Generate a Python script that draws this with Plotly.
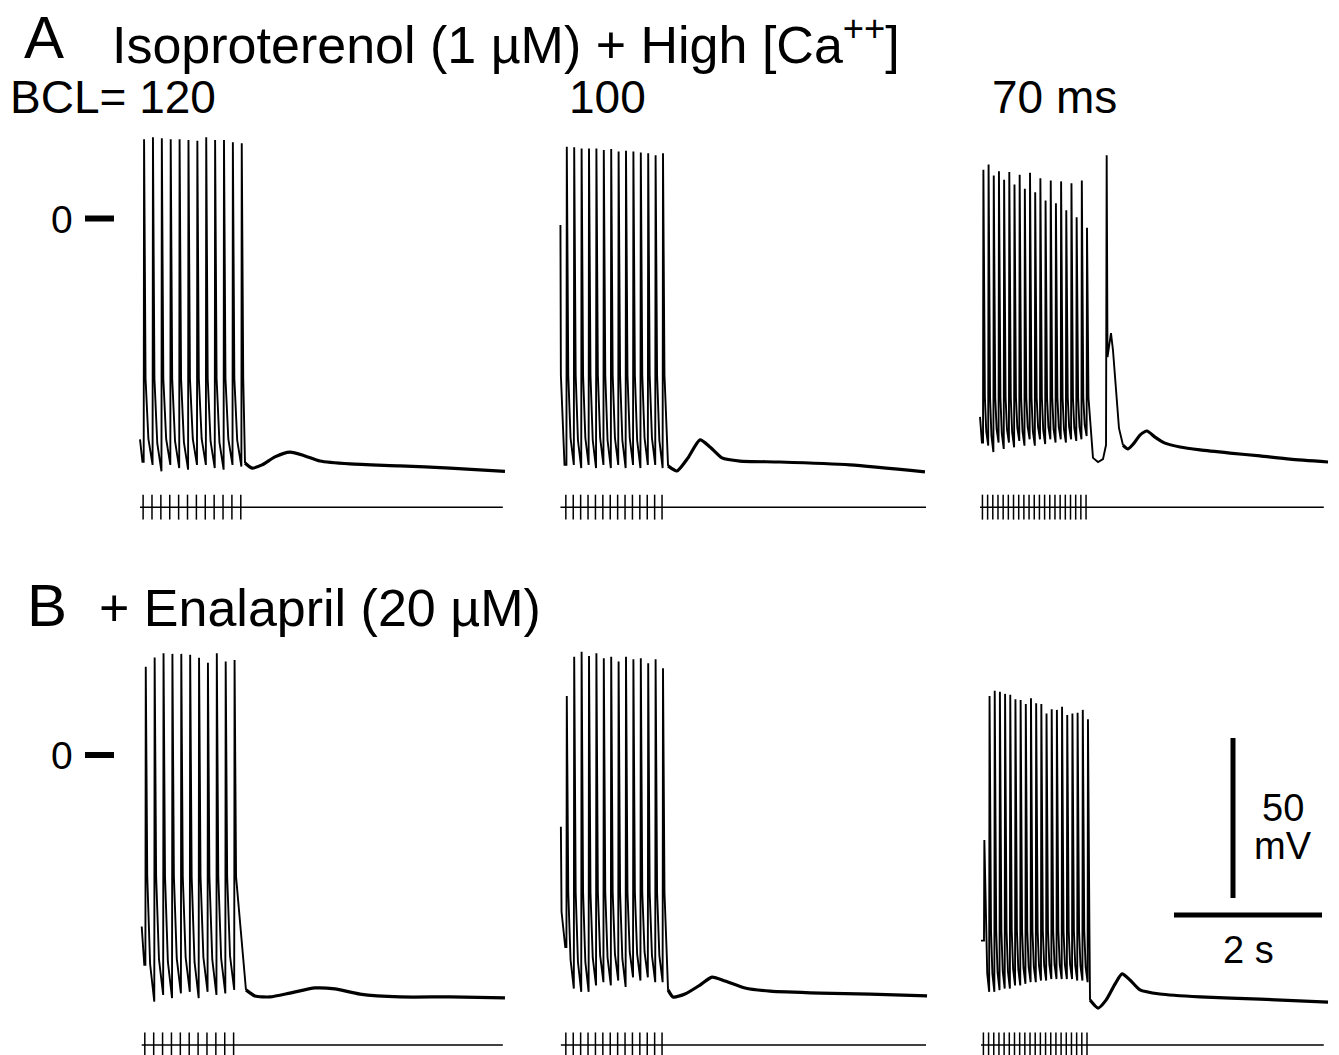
import plotly.graph_objects as go

W, H = 1339, 1055
FONT = "Liberation Sans, Arial, Helvetica, sans-serif"

# ---------------- data ----------------
BCL_S = [0.120, 0.100, 0.070]                 # basic cycle length, s
BCL_LABELS = ["BCL= 120", "100", "70 ms"]
ROW_TITLES = ["Isoproterenol (1 µM) + High [Ca<sup>++</sup>]", "+ Enalapril (20 µM)"]
ROW_LETTERS = ["A", "B"]
SCALE_MV = 50
SCALE_S = 2

# ---- Row A, BCL 120 ----
A1_first_stim = 0.081
A1_lead_t = [0.027, 0.060]
A1_lead_v = [-69.0, -76.0]
A1_peaks = [24.8, 25.4, 25.1, 24.8, 24.8, 24.5, 24.3, 25.4, 24.5, 24.5, 23.8, 23.5]
A1_troughs = [-77.0, -79.0, -77.0, -78.0, -78.5, -77.0, -77.0, -78.0, -78.5, -77.0, -77.5]
A1_knee = -50.0
A1_tail_t = [1.446, 1.541, 1.676, 1.851, 2.054, 2.257, 2.459, 2.865, 3.541, 4.216, 4.959]
A1_tail_v = [-76.4, -78.0, -77.0, -74.5, -73.0, -74.2, -75.8, -76.7, -77.3, -78.0, -79.0]

# ---- Row A, BCL 100 ----
A2_first_stim = 0.145
A2_lead_t = [0.060, 0.066, 0.115]
A2_lead_v = [-2.0, -49.0, -77.0]
A2_peaks = [22.4, 22.3, 21.9, 21.9, 21.9, 21.4, 21.7, 20.9, 21.2, 20.9, 20.6, 20.4, 19.8, 20.4]
A2_troughs = [-77.0, -78.0, -77.0, -78.0, -77.0, -78.0, -77.0, -78.0, -77.0, -78.0, -77.0, -77.0, -78.0]
A2_knee = -49.0
A2_tail_t = [1.514, 1.635, 1.784, 1.946, 2.081, 2.243, 2.486, 3.027, 3.973, 4.986]
A2_tail_v = [-77.3, -78.9, -74.8, -69.2, -71.4, -74.8, -75.8, -76.1, -77.0, -79.2]

# ---- Row A, BCL 70 (alternans + triggered beat) ----
A3_first_stim = 0.099
A3_lead_t = [0.054, 0.080]
A3_lead_v = [-62.0, -70.0]
A3_peaks = [15.2, 16.9, 13.4, 14.8, 12.1, 14.5, 10.6, 13.7, 9.3, 14.3, 8.2,
            12.6, 5.6, 11.9, 4.8, 11.6, 2.6, 11.0, 0.4, 11.9, -2.9]
A3_troughs = [-71.0, -73.0, -70.0, -72.0, -70.0, -71.5, -69.5, -71.0, -69.0, -71.0,
              -69.0, -70.5, -69.0, -70.0, -69.0, -70.0, -69.0, -69.5, -69.0, -68.0]
A3_knee = -56.0
A3_trig_t = [1.581, 1.649, 1.716, 1.757, 1.766, 1.777, 1.797, 1.824, 1.851, 1.892, 1.932, 1.986]
A3_trig_v = [-74.8, -76.1, -75.2, -70.8, 19.8, -43.3, -39.5, -35.8, -41.1, -55.2, -65.5, -70.8]
A3_tail_t = [1.986, 2.054, 2.135, 2.216, 2.311, 2.419, 2.554, 2.757, 3.027, 3.432, 3.838, 4.243, 4.757]
A3_tail_v = [-70.8, -72.0, -70.2, -67.7, -66.4, -68.3, -70.2, -71.4, -72.3, -73.3, -74.2, -75.2, -76.1]

# ---- Row B, BCL 120 ----
B1_first_stim = 0.104
B1_lead_t = [0.050, 0.085]
B1_lead_v = [-53.6, -65.6]
B1_peaks = [27.6, 30.5, 31.8, 31.6, 31.6, 31.3, 30.4, 28.8, 31.8, 29.2, 29.7]
B1_troughs = [-77.1, -75.0, -76.0, -74.5, -74.0, -76.0, -74.0, -75.0, -74.5, -73.4]
B1_knee = -38.0
B1_tail_t = [1.459, 1.581, 1.784, 2.054, 2.392, 2.662, 3.000, 3.541, 4.216, 4.959]
B1_tail_v = [-73.4, -75.3, -75.6, -74.4, -72.8, -73.1, -74.7, -75.6, -75.6, -75.9]

# ---- Row B, BCL 100 ----
B2_first_stim = 0.145
B2_lead_t = [0.066, 0.075, 0.125]
B2_lead_v = [-22.4, -49.0, -60.0]
B2_peaks = [18.4, 30.7, 32.3, 30.9, 31.8, 30.2, 30.7, 29.2, 30.7, 29.9, 30.2, 28.7, 29.9, 27.1]
B2_troughs = [-73.0, -74.0, -74.0, -72.0, -71.0, -72.0, -70.5, -72.5, -69.5, -70.5, -69.5, -71.0, -71.0]
B2_knee = -43.0
B2_tail_t = [1.514, 1.581, 1.743, 1.946, 2.108, 2.284, 2.554, 2.892, 3.568, 4.243, 5.014]
B2_tail_v = [-73.4, -75.6, -74.7, -71.9, -69.4, -70.6, -72.8, -73.8, -74.4, -74.7, -75.3]

# ---- Row B, BCL 70 ----
B3_first_stim = 0.112
B3_lead_t = [0.068]
B3_lead_v = [-58.0]
B3_peaks = [-26.6, 18.4, 20.1, 19.8, 19.1, 18.8, 17.4, 17.2, 15.9, 17.7, 16.2,
            15.9, 13.0, 14.3, 14.1, 15.1, 12.5, 13.0, 13.2, 14.1, 11.2]
B3_troughs = [-74.0, -74.0, -73.5, -73.0, -73.0, -72.0, -72.0, -71.5, -71.0, -71.0,
              -70.5, -70.5, -70.0, -70.0, -70.0, -70.0, -70.0, -70.5, -70.5, -71.0]
B3_knee = -55.0
B3_tail_t = [1.541, 1.649, 1.757, 1.878, 1.973, 2.081, 2.216, 2.486, 3.027, 3.838, 4.757]
B3_tail_v = [-76.6, -79.1, -76.6, -71.6, -68.4, -70.3, -73.4, -74.7, -75.6, -76.3, -77.2]

# stimulus-marker line extents (s)
STIM_END = [4.93, 5.00, 4.70]

# ---------------- layout geometry (pixels) ----------------
PX_PER_S = 74.0
PX_PER_MV = 3.2
COL_L = [138, 556, 976]
COL_R = [508, 928, 1332]
ROW_TOP = [120, 630]
ROW_BOT = [530, 1055]
ROW_ZERO = [218.5, 755]
STIM_MV = [-90.2, -90.6]
TICK_HALF = 3.9


def pxx(x):
    return x / W


def pxy(y):
    return 1 - y / H


def burst(first, bcl, lead_t, lead_v, peaks, troughs, knee):
    xs, ys = list(lead_t), list(lead_v)
    for i, p in enumerate(peaks):
        t = first + i * bcl
        if i == 0:
            xs.append(t - 0.004)
            ys.append(lead_v[-1])
        else:
            tr = troughs[i - 1]
            tp = t - bcl
            xs += [tp + 0.022 + 0.4 * (bcl - 0.026), t - 0.004]
            ys += [knee + 0.7 * (tr - knee), tr]
        xs += [t + 0.001, t + 0.021]
        ys += [p, knee]
    return xs, ys


panels = [
    (0, 0, A1_first_stim, A1_lead_t, A1_lead_v, A1_peaks, A1_troughs, A1_knee, [], [], A1_tail_t, A1_tail_v),
    (0, 1, A2_first_stim, A2_lead_t, A2_lead_v, A2_peaks, A2_troughs, A2_knee, [], [], A2_tail_t, A2_tail_v),
    (0, 2, A3_first_stim, A3_lead_t, A3_lead_v, A3_peaks, A3_troughs, A3_knee, A3_trig_t, A3_trig_v, A3_tail_t, A3_tail_v),
    (1, 0, B1_first_stim, B1_lead_t, B1_lead_v, B1_peaks, B1_troughs, B1_knee, [], [], B1_tail_t, B1_tail_v),
    (1, 1, B2_first_stim, B2_lead_t, B2_lead_v, B2_peaks, B2_troughs, B2_knee, [], [], B2_tail_t, B2_tail_v),
    (1, 2, B3_first_stim, B3_lead_t, B3_lead_v, B3_peaks, B3_troughs, B3_knee, [], [], B3_tail_t, B3_tail_v),
]

fig = go.Figure()


def axname(r, c):
    xa = "x" if c == 0 else f"x{c + 1}"
    ya = "y" if r == 0 else "y2"
    return xa, ya


for (r, c, first, lt, lv, pk, tr, kn, trig_t, trig_v, tail_t, tail_v) in panels:
    xa, ya = axname(r, c)
    bcl = BCL_S[c]
    bx, by = burst(first, bcl, lt, lv, pk, tr, kn)
    bx += list(trig_t) + [tail_t[0]]
    by += list(trig_v) + [tail_v[0]]
    fig.add_trace(go.Scatter(x=bx, y=by, mode="lines", xaxis=xa, yaxis=ya,
                             line=dict(color="black", width=1.9), hoverinfo="skip"))
    fig.add_trace(go.Scatter(x=tail_t, y=tail_v, mode="lines", xaxis=xa, yaxis=ya,
                             line=dict(color="black", width=3.2, shape="spline", smoothing=0.6),
                             hoverinfo="skip"))
    # stimulus marker line with ticks
    sy = STIM_MV[r]
    sx = [lt[0], STIM_END[c], None]
    syy = [sy, sy, None]
    for i in range(len(pk)):
        ts = first + i * bcl - 0.012
        sx += [ts, ts, None]
        syy += [sy - TICK_HALF, sy + TICK_HALF, None]
    fig.add_trace(go.Scatter(x=sx, y=syy, mode="lines", xaxis=xa, yaxis=ya,
                             line=dict(color="black", width=1.5), hoverinfo="skip"))

layout = dict(
    width=W, height=H, margin=dict(l=0, r=0, t=0, b=0),
    paper_bgcolor="white", plot_bgcolor="white", showlegend=False,
    font=dict(family=FONT, color="black", size=40),
)
for c in range(3):
    key = "xaxis" if c == 0 else f"xaxis{c + 1}"
    layout[key] = dict(domain=[pxx(COL_L[c]), pxx(COL_R[c])],
                       range=[0, (COL_R[c] - COL_L[c]) / PX_PER_S],
                       visible=False, fixedrange=True)
for r in range(2):
    key = "yaxis" if r == 0 else "yaxis2"
    layout[key] = dict(domain=[pxy(ROW_BOT[r]), pxy(ROW_TOP[r])],
                       range=[(ROW_ZERO[r] - ROW_BOT[r]) / PX_PER_MV,
                              (ROW_ZERO[r] - ROW_TOP[r]) / PX_PER_MV],
                       visible=False, fixedrange=True)
fig.update_layout(**layout)

ann = []


def text(s, x, y, size, xanchor="left"):
    ann.append(dict(text=s, x=pxx(x), y=pxy(y), xref="paper", yref="paper",
                    xanchor=xanchor, yanchor="middle", showarrow=False,
                    font=dict(size=size, family=FONT, color="black")))


text(ROW_LETTERS[0], 22, 37, 60)
text(ROW_TITLES[0], 110, 41, 52)
text(BCL_LABELS[0], 8, 97, 46)
text(BCL_LABELS[1], 567, 97, 46)
text(BCL_LABELS[2], 990, 97, 46)
text(ROW_LETTERS[1], 25, 605, 60)
text(ROW_TITLES[1], 97, 608, 52)
text("0", 62, 219, 39, "center")
text("0", 62, 755, 39, "center")
text(str(SCALE_MV), 1283, 808, 38, "center")
text("mV", 1283, 846, 38, "center")
text(f"{SCALE_S} s", 1248, 950, 38, "center")
fig.update_layout(annotations=ann)

shapes = []
for r in range(2):
    ya = "y" if r == 0 else "y2"
    shapes.append(dict(type="line", xref="paper", yref=ya, x0=pxx(85), x1=pxx(114),
                       y0=0, y1=0, line=dict(color="black", width=6)))
# scale bars in data units of the bottom-right panel
vb_t = (1233 - COL_L[2]) / PX_PER_S
vb_top = (ROW_ZERO[1] - 738) / PX_PER_MV
shapes.append(dict(type="line", xref="x3", yref="y2", x0=vb_t, x1=vb_t,
                   y0=vb_top, y1=vb_top - SCALE_MV, line=dict(color="black", width=5)))
hb_t0 = (1174 - COL_L[2]) / PX_PER_S
hb_y = (ROW_ZERO[1] - 915) / PX_PER_MV
shapes.append(dict(type="line", xref="x3", yref="y2", x0=hb_t0, x1=hb_t0 + SCALE_S,
                   y0=hb_y, y1=hb_y, line=dict(color="black", width=5)))
fig.update_layout(shapes=shapes)

fig.write_html("out.html")
